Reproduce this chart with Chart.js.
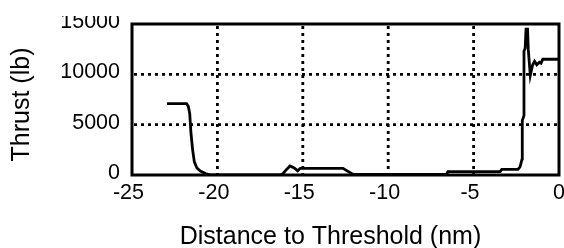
<!DOCTYPE html>
<html>
<head>
<meta charset="utf-8">
<script src="https://cdn.jsdelivr.net/npm/chart.js@4.4.1/dist/chart.umd.min.js"></script>
<style>
    html, body { margin: 0; padding: 0; background: #fff; }
    #wrap { position: relative; width: 564px; height: 248px; }
    #cover { position: absolute; left: 0; top: 0; width: 564px; height: 16px; background: #fff; }
</style>
</head>
<body>
<div id="wrap">
    <canvas id="thrustChart" width="564" height="248"></canvas>
    <div id="cover"></div>
</div>
<script>
// Data
const distance = [-22.95, -21.8, -21.7, -21.62, -21.55, -21.45, -21.35, -21.2, -21.0, -20.7, -20.4,
    -16.3, -16.15, -15.95, -15.75, -15.5, -15.3, -15.15, -12.65, -12.15, -12.0,
    -6.6, -6.5, -3.45, -3.35, -2.4, -2.28, -2.16, -2.15, -2.05, -2.05, -1.98, -1.93,
    -1.84, -1.8, -1.68, -1.55, -1.43, -1.3, -1.15, -1.05, -0.95, -0.04];
const thrust = [7100, 7100, 6800, 6100, 4200, 2500, 1300, 700, 400, 150, 0,
    0, 150, 550, 900, 700, 420, 660, 660, 150, 50,
    50, 330, 330, 560, 560, 800, 1600, 5400, 5900, 12300, 12600, 14500,
    14500, 12500, 9900, 10900, 11300, 10950, 11200, 11100, 11500, 11500];
const xTicks = [-25, -20, -15, -10, -5, 0];
const yTicks = [0, 5000, 10000, 15000];
const xTitle = 'Distance to Threshold (nm)';
const yTitle = 'Thrust (lb)';

const tickFont = '21.5px "Liberation Sans", Arial, sans-serif';
const titleFont = '25px "Liberation Sans", Arial, sans-serif';

// dotted grid, box frame and text drawn against the chart's own scales
const framePlugin = {
    id: 'frame',
    beforeDatasetsDraw(chart) {
        const { ctx, chartArea: a, scales: { x, y } } = chart;
        ctx.save();
        ctx.strokeStyle = '#000';
        ctx.lineWidth = 2.8;
        ctx.setLineDash([3, 4]);
        xTicks.slice(1, -1).forEach(v => {
            const px = x.getPixelForValue(v);
            ctx.beginPath();
            ctx.moveTo(px, a.top + 2);
            ctx.lineTo(px, a.bottom);
            ctx.stroke();
        });
        yTicks.slice(1, -1).forEach(v => {
            const py = y.getPixelForValue(v);
            ctx.beginPath();
            ctx.moveTo(a.left + 2, py);
            ctx.lineTo(a.right, py);
            ctx.stroke();
        });
        ctx.restore();
    },
    afterDraw(chart) {
        const { ctx, chartArea: a, scales: { x, y } } = chart;
        ctx.save();
        ctx.strokeStyle = '#000';
        ctx.lineWidth = 3;
        ctx.strokeRect(a.left, a.top, a.right - a.left, a.bottom - a.top);

        ctx.fillStyle = '#000';
        ctx.font = tickFont;
        ctx.textBaseline = 'alphabetic';
        // x labels: digits centred on the tick, minus sign hangs left
        xTicks.forEach(v => {
            const px = x.getPixelForValue(v);
            const digits = String(Math.abs(v));
            const w = ctx.measureText(digits).width;
            ctx.textAlign = 'center';
            ctx.fillText(digits, px, a.bottom + 24);
            if (v < 0) {
                ctx.textAlign = 'right';
                ctx.fillText('-', px - w / 2, a.bottom + 24);
            }
        });
        ctx.textAlign = 'right';
        yTicks.forEach(v => {
            ctx.fillText(String(v), a.left - 12, y.getPixelForValue(v) + 4);
        });

        ctx.font = titleFont;
        ctx.textAlign = 'center';
        ctx.fillText(xTitle, (a.left + a.right) / 2 - 15, 244);
        ctx.translate(28.5, (a.top + a.bottom) / 2 + 5);
        ctx.rotate(-Math.PI / 2);
        ctx.fillText(yTitle, 0, 0);
        ctx.restore();
    }
};

new Chart(document.getElementById('thrustChart'), {
    type: 'scatter',
    data: {
        datasets: [{
            data: distance.map((d, i) => ({ x: d, y: thrust[i] })),
            showLine: true,
            borderColor: '#000',
            borderWidth: 2.8,
            pointRadius: 0,
            tension: 0
        }]
    },
    options: {
        responsive: false,
        animation: false,
        layout: { padding: { left: 0, top: 24, right: 5, bottom: 0 } },
        plugins: { legend: { display: false }, tooltip: { enabled: false } },
        scales: {
            x: {
                type: 'linear', min: -25, max: 0,
                ticks: { display: false, stepSize: 5 },
                grid: { display: false },
                border: { display: false },
                afterFit(scale) { scale.height = 73; }
            },
            y: {
                type: 'linear', min: 0, max: 15000,
                ticks: { display: false, stepSize: 5000 },
                grid: { display: false },
                border: { display: false },
                afterFit(scale) { scale.width = 132; }
            }
        }
    },
    plugins: [framePlugin]
});
</script>
</body>
</html>
